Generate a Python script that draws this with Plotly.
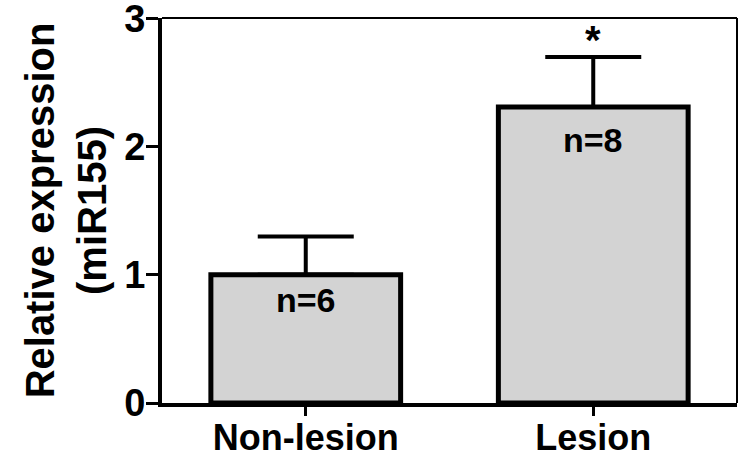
import plotly.graph_objects as go

categories = ["Non-lesion", "Lesion"]
means = [1.0, 2.31]
sem = [0.30, 0.39]
n_labels = ["n=6", "n=8"]
n_label_y = [0.80, 2.05]
sig_labels = ["", "*"]
sig_y = [None, 2.83]
y_ticks = [0, 1, 2, 3]
y_ticktext = ["0", "1", "2", "3"]

FONT = "Liberation Sans, Arial, sans-serif"

fig = go.Figure()
fig.add_trace(go.Bar(
    x=categories, y=means, width=0.66,
    marker=dict(color="#d3d3d3", line=dict(color="black", width=5)),
    error_y=dict(type="data", array=sem, arrayminus=[0, 0], symmetric=False,
                 color="black", thickness=4, width=48),
    showlegend=False,
))

for c, t, yy in zip(categories, n_labels, n_label_y):
    fig.add_annotation(x=c, y=yy, text=t, showarrow=False,
                       font=dict(family=FONT, size=34, color="black", weight="bold"))
for c, t, yy in zip(categories, sig_labels, sig_y):
    if t:
        fig.add_annotation(x=c, y=yy, text=t, showarrow=False,
                           font=dict(family=FONT, size=40, color="black", weight="bold"))

# thin top/right frame
fig.add_shape(type="line", xref="paper", yref="paper", x0=0, x1=1, y0=1, y1=1,
              line=dict(color="black", width=2))
fig.add_shape(type="line", xref="paper", yref="paper", x0=1, x1=1, y0=0, y1=1,
              line=dict(color="black", width=2))

fig.update_layout(
    width=742, height=455,
    margin=dict(l=162, r=5, t=18, b=52),
    plot_bgcolor="white", paper_bgcolor="white",
    font=dict(family=FONT, color="black"),
    xaxis=dict(
        range=[-0.5, 1.5], showline=True, linecolor="black", linewidth=4,
        ticks="outside", ticklen=9, tickwidth=3, tickcolor="black",
        tickfont=dict(family=FONT, size=36, weight="bold"),
        ticklabelstandoff=-9,
        showgrid=False, zeroline=False, automargin=False,
    ),
    yaxis=dict(
        range=[0, 3.004], tickvals=y_ticks, ticktext=y_ticktext,
        showline=True, linecolor="black", linewidth=4,
        ticks="outside", ticklen=12, tickwidth=3, tickcolor="black",
        tickfont=dict(family=FONT, size=38, weight="bold"),
        ticklabelstandoff=-7, ticklabeloverflow="allow",
        showgrid=False, zeroline=False, automargin=False,
        title=dict(text="Relative expression<br>(miR155)",
                   font=dict(family=FONT, size=40, weight="bold"), standoff=6),
    ),
)

fig.write_html("out.html", config={"displayModeBar": False},
               post_script="document.body.style.margin='0';document.body.style.overflow='hidden';")
